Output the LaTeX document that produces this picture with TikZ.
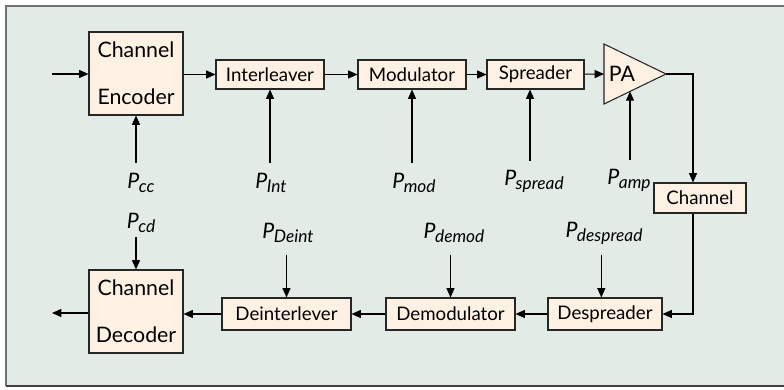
\documentclass[tikz,border=0pt]{standalone}
\usepackage{fontspec}
\setmainfont{Lato}
\usetikzlibrary{arrows.meta}
\definecolor{bgcol}{HTML}{E3EBE6}
\definecolor{boxcol}{HTML}{FDF1E4}
\definecolor{framecol}{HTML}{6F7470}
\newcommand{\pwr}[1]{P\kern-0.4pt\raisebox{-0.35ex}{\fontsize{13}{14}\selectfont #1}}
\begin{document}
\begin{tikzpicture}[x=0.75pt,y=-0.75pt,
		blk/.style={draw=black!85, fill=boxcol, line width=0.8pt, inner sep=0pt,
			font=\fontsize{14}{16}\selectfont},
		bigblk/.style={blk, minimum width=70.5pt, minimum height=62.25pt,
			align=center, font=\fontsize{16}{35}\selectfont},
		lbl/.style={inner sep=0pt, minimum height=30pt,
			font=\fontsize{16}{18}\selectfont\itshape},
		conn/.style={line width=0.8pt, -{Triangle[length=7pt,width=6pt]}}
	]
	\useasboundingbox (0,0) rectangle (784,389);
	% frame, open on the right
	\fill[bgcol] (6,6) rectangle (784,386);
	\draw[framecol, line width=1.6pt] (784,6) -- (6,6) -- (6,386);
	\draw[black!75, line width=1.6pt] (6,386) -- (784,386);

	% transmitter
	\node[bigblk] (enc) at (136,73.5) {Channel\\Encoder};
	\node[blk, minimum width=81pt, minimum height=21.75pt] (intl) at (270,74.5) {Interleaver};
	\node[blk, minimum width=81pt, minimum height=21.75pt] (mod) at (412,74.5) {Modulator};
	\node[blk, minimum width=72.75pt, minimum height=21.75pt] (spr) at (535.5,74.5) {Spreader};
	\draw[draw=black!85, fill=boxcol, line width=0.8pt] (604,44) -- (666,74) -- (604,104) -- cycle;
	\coordinate (pain) at (604,74);
	\coordinate (paout) at (666,74);
	\coordinate (pabot) at (630,91.4);
	\node[font=\fontsize{16}{18}\selectfont] (pa) at (622,74) {PA};
	\node[blk, minimum width=69pt, minimum height=22.5pt] (chan) at (700,198) {Channel};

	% receiver
	\node[blk, minimum width=85.5pt, minimum height=24pt] (dspr) at (605,314) {Despreader};
	\node[blk, minimum width=96.75pt, minimum height=24pt] (dmod) at (450.5,314) {Demodulator};
	\node[blk, minimum width=96.75pt, minimum height=24pt] (dint) at (286.5,314) {Deinterlever};
	\node[bigblk] (dec) at (136,311.5) {Channel\\Decoder};

	% power labels
	\node[lbl] (pcc) at (141,183) {\pwr{cc}};
	\node[lbl] (pint) at (271,183) {\pwr{Int}};
	\node[lbl] (pmod) at (414,183) {\pwr{mod}};
	\node[lbl] (pspr) at (534,181) {\pwr{spread}};
	\node[lbl] (pamp) at (629,180) {\pwr{amp}};
	\node[lbl, minimum height=21pt] (pcd) at (141,223) {\pwr{cd}};
	\node[lbl, minimum height=33pt] (pdint) at (288,233) {\pwr{Deint}};
	\node[lbl, minimum height=33pt] (pdmod) at (454,233) {\pwr{demod}};
	\node[lbl, minimum height=33pt] (pdspr) at (604,233) {\pwr{despread}};

	% signal path
	\coordinate (in) at (52,74);
	\coordinate (out) at (52,313);
	\draw[conn] (in) -- (enc.west |- in);
	\draw[conn] (enc.east |- intl) -- (intl);
	\draw[conn] (intl) -- (mod);
	\draw[conn] (mod) -- (spr);
	\draw[conn] (spr) -- (pain);
	\draw[conn] (paout) -| ([xshift=-5.25pt]chan.north);
	\draw[conn] ([xshift=-5.25pt]chan.south) |- (dspr.east);
	\draw[conn] (dspr) -- (dmod);
	\draw[conn] (dmod) -- (dint);
	\draw[conn] (dint.west) -- (dec.east |- dint);
	\draw[conn] (dec.west |- out) -- (out);

	% control inputs
	\draw[conn] (pcc.north -| enc) -- (enc.south);
	\draw[conn] (pint.north -| intl) -- (intl.south);
	\draw[conn] (pmod.north -| mod) -- (mod.south);
	\draw[conn] ([xshift=-3pt]pspr.north) -- ([xshift=-3pt]pspr.north |- spr.south);
	\draw[conn] (pamp.north -| pabot) -- (pabot);
	\draw[conn] (pcd.south -| dec) -- (dec.north);
	\draw[conn] (pdint.south -| dint) -- (dint.north);
	\draw[conn] (pdmod.south -| dmod) -- (dmod.north);
	\draw[conn] ([xshift=-2pt]pdspr.south) -- ([xshift=-2pt]pdspr.south |- dspr.north);
\end{tikzpicture}
\end{document}
